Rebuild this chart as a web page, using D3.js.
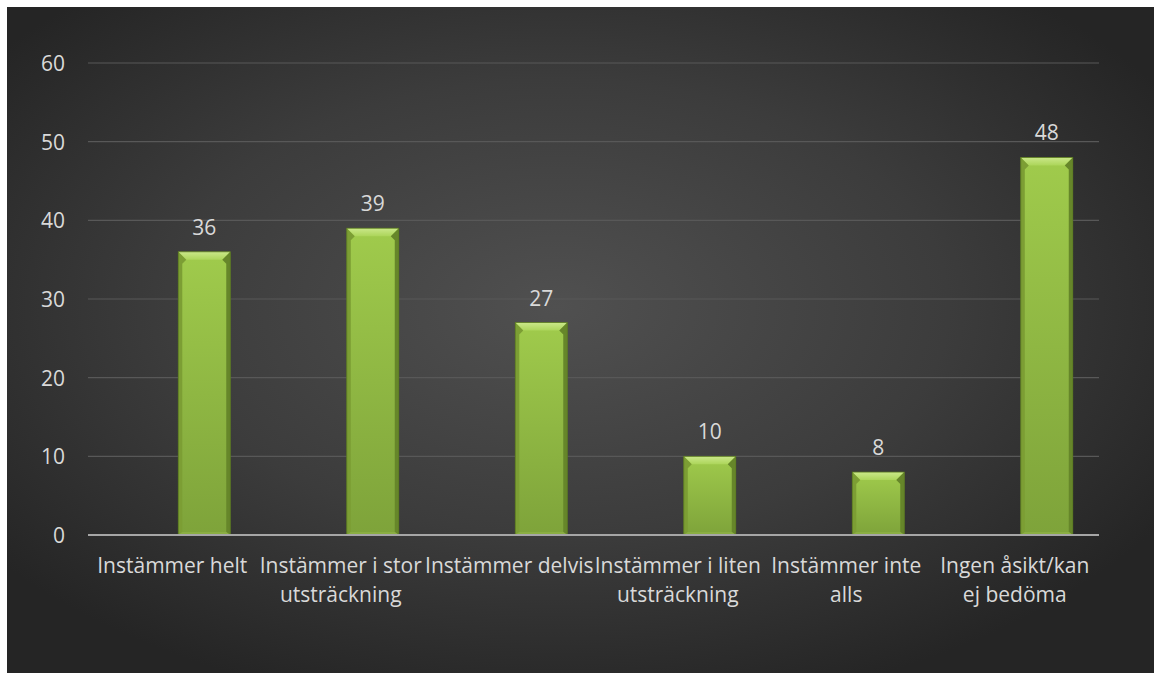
<!DOCTYPE html>
<html>
<head>
<meta charset="utf-8">
<script src="https://cdn.jsdelivr.net/npm/d3@7"></script>
<style>
  html, body { margin: 0; padding: 0; background: #ffffff; }
  svg { display: block; }
  text { font-family: "Open Sans", "Noto Sans", sans-serif; }
</style>
</head>
<body>
<svg id="chart" width="1154" height="673"></svg>
<script>
// Survey answers and counts
const categories = [
  "Instämmer helt",
  "Instämmer i stor utsträckning",
  "Instämmer delvis",
  "Instämmer i liten utsträckning",
  "Instämmer inte alls",
  "Ingen åsikt/kan ej bedöma"
];
const counts = [36, 39, 27, 10, 8, 48];
const yTicks = [0, 10, 20, 30, 40, 50, 60];

const W = 1154, H = 673;
const frame = { x: 7, y: 7 };
const plot = { left: 88, right: 1099, top: 63, bottom: 535 };
const fontSize = "21px";
const textColor = "#d9d9d9";

const svg = d3.select("#chart");
const defs = svg.append("defs");

// dark panel with a soft light centre
const bg = defs.append("radialGradient").attr("id", "bgGrad")
  .attr("cx", "0.48").attr("cy", "0.45").attr("r", "0.62");
bg.append("stop").attr("offset", "0").attr("stop-color", "#505050");
bg.append("stop").attr("offset", "0.55").attr("stop-color", "#3c3c3c");
bg.append("stop").attr("offset", "1").attr("stop-color", "#252525");

svg.append("rect")
  .attr("x", frame.x).attr("y", frame.y)
  .attr("width", W - frame.x).attr("height", H - frame.y)
  .attr("fill", "url(#bgGrad)");

// bar face gradient
const barGrad = defs.append("linearGradient").attr("id", "barGrad")
  .attr("x1", 0).attr("y1", 0).attr("x2", 0).attr("y2", 1);
barGrad.append("stop").attr("offset", "0").attr("stop-color", "#a0cb4c");
barGrad.append("stop").attr("offset", "1").attr("stop-color", "#7ea33a");

// top bevel gradient
const topGrad = defs.append("linearGradient").attr("id", "topGrad")
  .attr("x1", 0).attr("y1", 0).attr("x2", 0).attr("y2", 1);
topGrad.append("stop").attr("offset", "0").attr("stop-color", "#cbe88a");
topGrad.append("stop").attr("offset", "1").attr("stop-color", "#acd55a");

const x = d3.scaleBand()
  .domain(categories)
  .range([plot.left, plot.right])
  .paddingInner(0).paddingOuter(0);

const y = d3.scaleLinear()
  .domain([0, 60])
  .range([plot.bottom, plot.top]);

// horizontal gridlines
svg.append("g")
  .selectAll("line")
  .data(yTicks.filter(d => d > 0))
  .join("line")
  .attr("x1", plot.left).attr("x2", plot.right)
  .attr("y1", d => y(d)).attr("y2", d => y(d))
  .attr("stroke", "#585858").attr("stroke-width", 1.2);

// y axis labels
const yAxis = d3.axisLeft(y).tickValues(yTicks).tickSize(0).tickPadding(0);
const gy = svg.append("g").attr("transform", `translate(65,0)`).call(yAxis);
gy.select(".domain").remove();
gy.selectAll("text")
  .attr("fill", textColor)
  .style("font-size", fontSize)
  .style("font-family", '"Open Sans", sans-serif')
  .attr("dy", "0.36em");

// bars: sit slightly right of each category centre
const bw = 52;
const barOffset = x.bandwidth() * 0.19;
const barX = d => x(d) + x.bandwidth() / 2 + barOffset - bw / 2;

const bars = svg.append("g")
  .selectAll("g")
  .data(categories.map((c, i) => ({ c, v: counts[i] })))
  .join("g")
  .attr("transform", d => `translate(${barX(d.c)},${y(d.v)})`);

bars.append("rect")
  .attr("width", bw)
  .attr("height", d => y(0) - y(d.v))
  .attr("fill", "url(#barGrad)");

// bevel edges
const bev = 8, side = 4;
bars.append("path")
  .attr("d", `M0,0 L${bw},0 L${bw - side - 4},${bev} L${side + 4},${bev} Z`)
  .attr("fill", "url(#topGrad)");
bars.append("path")
  .attr("d", d => { const h = y(0) - y(d.v); return `M0,0 L${side + 4},${bev} L${side},${bev + 4} L${side},${h - 3} L0,${h} Z`; })
  .attr("fill", "#7c9e34");
bars.append("path")
  .attr("d", d => { const h = y(0) - y(d.v); return `M${bw},0 L${bw - side - 4},${bev} L${bw - side},${bev + 4} L${bw - side},${h - 3} L${bw},${h} Z`; })
  .attr("fill", "#66862a");
bars.append("path")
  .attr("d", d => { const h = y(0) - y(d.v); return `M0,${h} L${side},${h - 3} L${bw - side},${h - 3} L${bw},${h} Z`; })
  .attr("fill", "#8aae42");
bars.append("rect")
  .attr("width", bw).attr("height", d => y(0) - y(d.v))
  .attr("fill", "none").attr("stroke", "#587620").attr("stroke-width", 0.8);

// value labels
bars.append("text")
  .attr("x", bw / 2).attr("y", -17)
  .attr("text-anchor", "middle")
  .attr("fill", textColor)
  .style("font-size", fontSize)
  .text(d => d.v);

// baseline
svg.append("line")
  .attr("x1", plot.left).attr("x2", plot.right)
  .attr("y1", y(0)).attr("y2", y(0))
  .attr("stroke", "#a6a6a6").attr("stroke-width", 2);

// category labels, wrapped to the band width
const wrapWidth = x.bandwidth();
const xAxis = d3.axisBottom(x).tickSize(0).tickPadding(0);
const gx = svg.append("g").attr("transform", `translate(0,${y(0)})`).call(xAxis);
gx.select(".domain").remove();
gx.selectAll("text")
  .attr("fill", textColor)
  .style("font-size", fontSize)
  .style("font-family", '"Open Sans", sans-serif')
  .attr("dy", 0)
  .each(function (d) {
    const t = d3.select(this);
    const words = d.split(" ");
    t.text(null);
    let line = [], lineNo = 0;
    let tspan = t.append("tspan").attr("x", 0).attr("y", 38);
    for (const w of words) {
      line.push(w);
      tspan.text(line.join(" "));
      if (tspan.node().getComputedTextLength() > wrapWidth && line.length > 1) {
        line.pop();
        tspan.text(line.join(" "));
        line = [w];
        lineNo++;
        tspan = t.append("tspan").attr("x", 0).attr("y", 38 + lineNo * 29).text(w);
      }
    }
  });
</script>
</body>
</html>
